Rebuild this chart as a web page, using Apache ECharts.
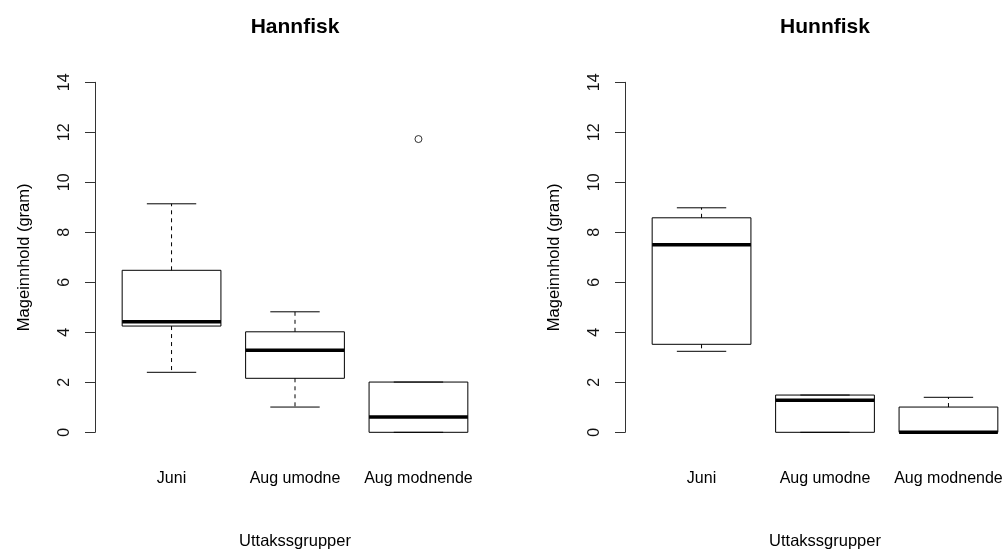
<!DOCTYPE html>
<html><head><meta charset="utf-8">
<script src="https://cdn.jsdelivr.net/npm/echarts@6/dist/echarts.min.js"></script>
<style>html,body{margin:0;padding:0;background:#fff}#c{width:1008px;height:552px}</style>
</head><body><div id="c"></div>
<script>
const categories = ['Juni', 'Aug umodne', 'Aug modnende'];
const panelTitles = ['Hannfisk', 'Hunnfisk'];
const yName = 'Mageinnhold (gram)';
const xName = 'Uttakssgrupper';
// each box: [lower whisker, Q1, median, Q3, upper whisker]
const hannfiskStats = [[2.40, 4.25, 4.42, 6.48, 9.14], [1.01, 2.16, 3.28, 4.02, 4.82], [0, 0, 0.61, 2.01, 2.01]];
const hannfiskOutliers = [[3, 11.73]];
const hunnfiskStats = [[3.24, 3.52, 7.50, 8.58, 8.98], [0, 0, 1.28, 1.49, 1.49], [0, 0, 0, 1.01, 1.40]];
const hunnfiskOutliers = [];

const FONT = '"Liberation Sans", Arial, sans-serif';
const panels = [
  { title: panelTitles[0], stats: hannfiskStats, outliers: hannfiskOutliers, left: 95 },
  { title: panelTitles[1], stats: hunnfiskStats, outliers: hunnfiskOutliers, left: 625 }
];
const PW = 400, TOP = 82.3, PH = 350;

function renderBox(params, api) {
  const x = api.value(0);
  const lo = api.value(1), q1 = api.value(2), med = api.value(3), q3 = api.value(4), hi = api.value(5);
  const bw = api.size([0.8, 0])[0];
  const cw = api.size([0.4, 0])[0];
  const pLo = api.coord([x, lo]), pQ1 = api.coord([x, q1]), pMed = api.coord([x, med]),
        pQ3 = api.coord([x, q3]), pHi = api.coord([x, hi]);
  const cx = pLo[0];
  const solid = { stroke: '#000', lineWidth: 1, fill: null };
  const dash = { stroke: '#000', lineWidth: 1, lineDash: [4, 4], fill: null };
  const ch = [];
  if (hi > q3) ch.push({ type: 'line', shape: { x1: cx, y1: pQ3[1], x2: cx, y2: pHi[1] }, style: dash });
  if (lo < q1) ch.push({ type: 'line', shape: { x1: cx, y1: pQ1[1], x2: cx, y2: pLo[1] }, style: dash });
  ch.push({ type: 'line', shape: { x1: cx - cw / 2, y1: pHi[1], x2: cx + cw / 2, y2: pHi[1] }, style: solid });
  ch.push({ type: 'line', shape: { x1: cx - cw / 2, y1: pLo[1], x2: cx + cw / 2, y2: pLo[1] }, style: solid });
  ch.push({ type: 'rect', shape: { x: cx - bw / 2, y: pQ3[1], width: bw, height: pQ1[1] - pQ3[1] },
            style: { stroke: '#000', lineWidth: 1, fill: 'rgba(0,0,0,0)' } });
  ch.push({ type: 'line', shape: { x1: cx - bw / 2, y1: pMed[1], x2: cx + bw / 2, y2: pMed[1] },
            style: { stroke: '#000', lineWidth: 3.5 } });
  return { type: 'group', children: ch };
}

const option = {
  animation: false,
  backgroundColor: '#fff',
  title: panels.map(p => ({
    text: p.title, left: p.left + PW / 2, top: 17, textAlign: 'center', padding: 0,
    textStyle: { fontFamily: FONT, fontSize: 21, fontWeight: 'bold', color: '#000' }
  })),
  grid: panels.map(p => ({ left: p.left, top: TOP, width: PW, height: PH, outerBoundsMode: 'none', containLabel: false })),
  xAxis: panels.map((p, i) => ({
    type: 'value', gridIndex: i, min: 0.38, max: 3.62,
    axisLine: { show: false }, axisTick: { show: false }, splitLine: { show: false },
    axisLabel: {
      customValues: [1, 2, 3], margin: 38,
      formatter: v => categories[Math.round(v) - 1] || '',
      fontFamily: FONT, fontSize: 16, color: '#000'
    },
    name: xName, nameLocation: 'middle', nameGap: 101,
    nameTextStyle: { fontFamily: FONT, fontSize: 16.5, color: '#000' }
  })),
  yAxis: panels.map((p, i) => ({
    type: 'value', gridIndex: i, min: 0, max: 14, interval: 2,
    axisLine: { show: true, lineStyle: { color: '#333', width: 1 } },
    axisTick: { show: true, length: 10, lineStyle: { color: '#333', width: 1 } },
    splitLine: { show: false },
    axisLabel: { rotate: 90, margin: 22, fontFamily: FONT, fontSize: 16, color: '#111' },
    name: yName, nameLocation: 'middle', nameGap: 62,
    nameTextStyle: { fontFamily: FONT, fontSize: 16.5, color: '#000' }
  })),
  series: panels.flatMap((p, i) => [
    {
      type: 'custom', xAxisIndex: i, yAxisIndex: i, renderItem: renderBox, clip: false,
      encode: { x: 0, y: [1, 2, 3, 4, 5] },
      data: p.stats.map((s, k) => [k + 1].concat(s))
    },
    {
      type: 'scatter', xAxisIndex: i, yAxisIndex: i, symbol: 'circle', symbolSize: 7,
      itemStyle: { color: '#fff', borderColor: '#000', borderWidth: 1 },
      data: p.outliers
    }
  ])
};
const chart = echarts.init(document.getElementById('c'), null, { renderer: 'canvas' });
chart.setOption(option);
</script></body></html>
